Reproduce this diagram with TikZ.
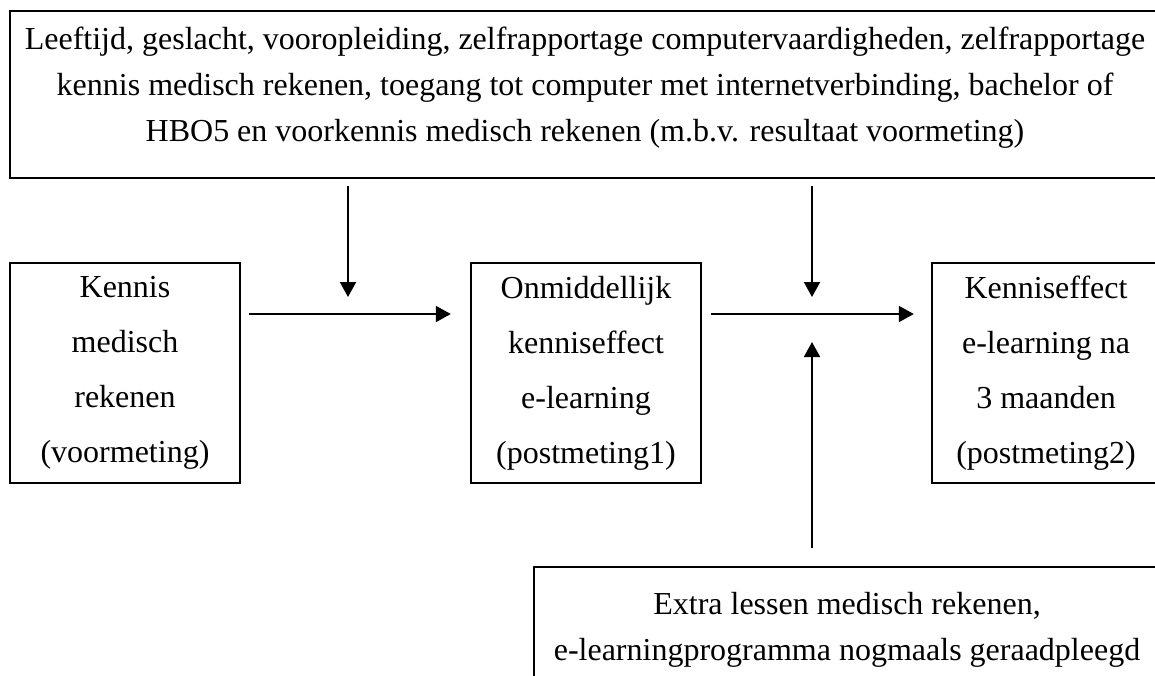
\documentclass[tikz,border=0pt]{standalone}
\usepackage{fontspec}
\setmainfont{Liberation Serif}
\usetikzlibrary{arrows.meta}

\tikzset{
  blok/.style={draw, line width=1.2pt, align=center, inner sep=0pt,
    font=\fontsize{16}{27.5}\selectfont},
  pijl/.style={line width=1pt, -{Triangle[length=7.5pt,width=8pt]}}
}

\begin{document}
\begin{tikzpicture}[x=0.5pt,y=-0.5pt]
    \useasboundingbox (0,0) rectangle (1155,675);

    % kaders
    \node[blok, minimum width=575pt, minimum height=83.5pt, text depth=10.5pt,
      font=\fontsize{16}{23}\selectfont] (factoren) at (585,94.5)
      {Leeftijd, geslacht, vooropleiding, zelfrapportage computervaardigheden, zelfrapportage\\
       kennis medisch rekenen, toegang tot computer met internetverbinding, bachelor of\\
       HBO5 en voorkennis medisch rekenen (m.b.v. resultaat voormeting)};

    \node[blok, minimum width=115pt, minimum height=110pt] (kennis) at (125,373)
      {Kennis\\ medisch\\ rekenen\\ (voormeting)};
    \node[blok, minimum width=115pt, minimum height=110pt] (direct) at (586,373)
      {Onmiddellijk\\ kenniseffect\\ e-learning\\ (postmeting1)};
    \node[blok, minimum width=114pt, minimum height=110pt] (later) at (1046,373)
      {Kenniseffect\\ e-learning na\\ 3 maanden\\ (postmeting2)};

    \node[blok, minimum width=313pt, minimum height=63pt,
      font=\fontsize{16}{23}\selectfont] (extra) at (847,630)
      {Extra lessen medisch rekenen,\\ e-learningprogramma nogmaals geraadpleegd};

    % pijlen
    \coordinate (k1) at (348,314);
    \coordinate (k2) at (812,314);

    \draw[pijl, shorten <=4pt, shorten >=9.5pt] (kennis.east |- k1) -- (direct.west |- k1);
    \draw[pijl, shorten <=4.5pt, shorten >=8.5pt] (direct.east |- k2) -- (later.west |- k2);
    \draw[pijl, shorten <=3.5pt, shorten >=8.5pt] (factoren.south -| k1) -- (k1);
    \draw[pijl, shorten <=3.5pt, shorten >=8.5pt] (factoren.south -| k2) -- (k2);
    \draw[pijl, shorten <=9pt, shorten >=14pt] (extra.north -| k2) -- (k2);

  \end{tikzpicture}
\end{document}
